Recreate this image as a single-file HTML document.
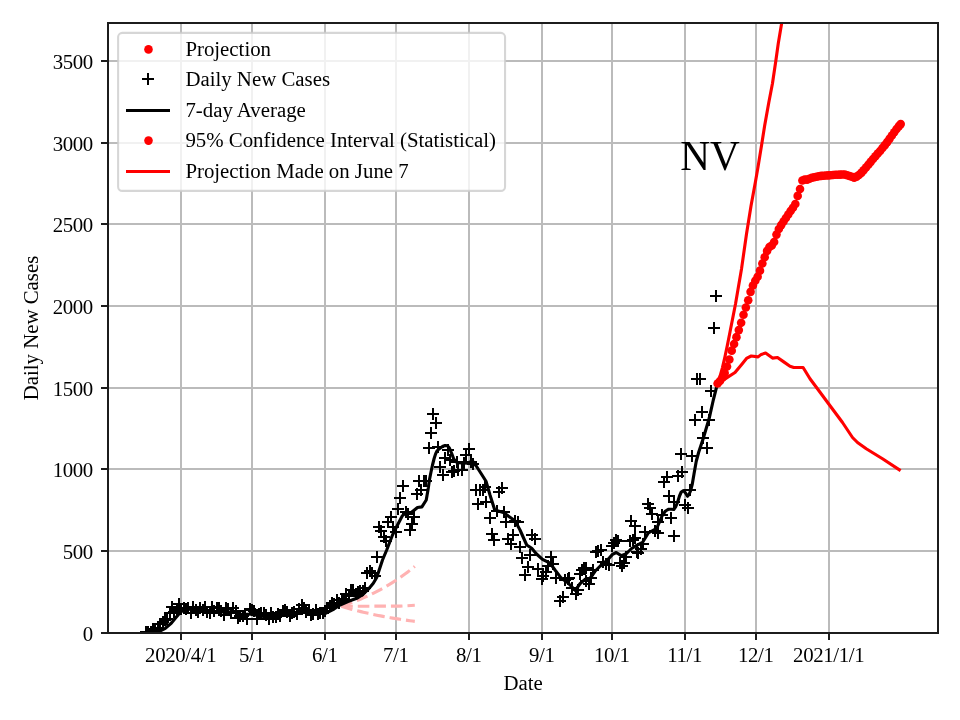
<!DOCTYPE html>
<html><head><meta charset="utf-8"><title>NV Daily New Cases</title>
<style>
html,body{margin:0;padding:0;background:#fff;}
body{width:960px;height:720px;overflow:hidden;}
svg{display:block;}
text{font-family:"Liberation Serif","Times New Roman",serif;fill:#000;}
.t{font-size:20.83px;}
.k{letter-spacing:-0.35px;}
</style></head><body>
<svg width="960" height="720" viewBox="0 0 960 720">
<rect width="960" height="720" fill="#fff"/>
<defs><clipPath id="ax"><rect x="108.00" y="23.00" width="830.00" height="610.00"/></clipPath>
<path id="p" d="M-6,-1h12v2h-12zM-1,-6h2v12h-2z" fill="#000" shape-rendering="crispEdges"/>
<circle id="d" r="4.3" fill="#f00"/>
</defs>
<g fill="#bbbbbb" shape-rendering="crispEdges">
<rect x="180" y="23" width="2" height="610"/>
<rect x="251" y="23" width="2" height="610"/>
<rect x="324" y="23" width="2" height="610"/>
<rect x="395" y="23" width="2" height="610"/>
<rect x="468" y="23" width="2" height="610"/>
<rect x="541" y="23" width="2" height="610"/>
<rect x="611" y="23" width="2" height="610"/>
<rect x="684" y="23" width="2" height="610"/>
<rect x="755" y="23" width="2" height="610"/>
<rect x="828" y="23" width="2" height="610"/>
<rect x="108" y="632" width="830" height="2"/>
<rect x="108" y="550" width="830" height="2"/>
<rect x="108" y="468" width="830" height="2"/>
<rect x="108" y="387" width="830" height="2"/>
<rect x="108" y="305" width="830" height="2"/>
<rect x="108" y="223" width="830" height="2"/>
<rect x="108" y="142" width="830" height="2"/>
<rect x="108" y="60" width="830" height="2"/>
</g>
<g fill="#1c1c1c" shape-rendering="crispEdges">
<rect x="180" y="633" width="2" height="7"/>
<rect x="251" y="633" width="2" height="7"/>
<rect x="324" y="633" width="2" height="7"/>
<rect x="395" y="633" width="2" height="7"/>
<rect x="468" y="633" width="2" height="7"/>
<rect x="541" y="633" width="2" height="7"/>
<rect x="611" y="633" width="2" height="7"/>
<rect x="684" y="633" width="2" height="7"/>
<rect x="755" y="633" width="2" height="7"/>
<rect x="828" y="633" width="2" height="7"/>
<rect x="101" y="632" width="7" height="2"/>
<rect x="101" y="550" width="7" height="2"/>
<rect x="101" y="468" width="7" height="2"/>
<rect x="101" y="387" width="7" height="2"/>
<rect x="101" y="305" width="7" height="2"/>
<rect x="101" y="223" width="7" height="2"/>
<rect x="101" y="142" width="7" height="2"/>
<rect x="101" y="60" width="7" height="2"/>
</g>
<g clip-path="url(#ax)">
<g>
<use href="#p" x="146" y="632"/>
<use href="#p" x="148" y="632"/>
<use href="#p" x="151" y="632"/>
<use href="#p" x="153" y="629"/>
<use href="#p" x="155" y="630"/>
<use href="#p" x="158" y="628"/>
<use href="#p" x="160" y="624"/>
<use href="#p" x="163" y="622"/>
<use href="#p" x="165" y="620"/>
<use href="#p" x="167" y="619"/>
<use href="#p" x="170" y="613"/>
<use href="#p" x="172" y="607"/>
<use href="#p" x="174" y="612"/>
<use href="#p" x="177" y="610"/>
<use href="#p" x="179" y="604"/>
<use href="#p" x="181" y="609"/>
<use href="#p" x="184" y="608"/>
<use href="#p" x="186" y="609"/>
<use href="#p" x="188" y="608"/>
<use href="#p" x="191" y="613"/>
<use href="#p" x="193" y="607"/>
<use href="#p" x="196" y="610"/>
<use href="#p" x="198" y="612"/>
<use href="#p" x="200" y="608"/>
<use href="#p" x="203" y="610"/>
<use href="#p" x="205" y="607"/>
<use href="#p" x="207" y="612"/>
<use href="#p" x="210" y="613"/>
<use href="#p" x="212" y="607"/>
<use href="#p" x="214" y="611"/>
<use href="#p" x="217" y="608"/>
<use href="#p" x="219" y="608"/>
<use href="#p" x="221" y="611"/>
<use href="#p" x="224" y="615"/>
<use href="#p" x="226" y="608"/>
<use href="#p" x="228" y="609"/>
<use href="#p" x="231" y="613"/>
<use href="#p" x="233" y="608"/>
<use href="#p" x="236" y="611"/>
<use href="#p" x="238" y="618"/>
<use href="#p" x="240" y="616"/>
<use href="#p" x="243" y="616"/>
<use href="#p" x="245" y="614"/>
<use href="#p" x="247" y="619"/>
<use href="#p" x="250" y="609"/>
<use href="#p" x="252" y="610"/>
<use href="#p" x="254" y="611"/>
<use href="#p" x="257" y="619"/>
<use href="#p" x="259" y="614"/>
<use href="#p" x="261" y="613"/>
<use href="#p" x="264" y="613"/>
<use href="#p" x="266" y="615"/>
<use href="#p" x="269" y="619"/>
<use href="#p" x="271" y="613"/>
<use href="#p" x="273" y="617"/>
<use href="#p" x="276" y="617"/>
<use href="#p" x="278" y="614"/>
<use href="#p" x="280" y="616"/>
<use href="#p" x="283" y="611"/>
<use href="#p" x="285" y="610"/>
<use href="#p" x="287" y="612"/>
<use href="#p" x="290" y="616"/>
<use href="#p" x="292" y="613"/>
<use href="#p" x="294" y="612"/>
<use href="#p" x="297" y="614"/>
<use href="#p" x="299" y="609"/>
<use href="#p" x="302" y="605"/>
<use href="#p" x="304" y="608"/>
<use href="#p" x="306" y="612"/>
<use href="#p" x="309" y="610"/>
<use href="#p" x="311" y="615"/>
<use href="#p" x="313" y="614"/>
<use href="#p" x="316" y="610"/>
<use href="#p" x="318" y="614"/>
<use href="#p" x="320" y="613"/>
<use href="#p" x="323" y="613"/>
<use href="#p" x="325" y="611"/>
<use href="#p" x="327" y="608"/>
<use href="#p" x="330" y="606"/>
<use href="#p" x="332" y="603"/>
<use href="#p" x="334" y="604"/>
<use href="#p" x="337" y="600"/>
<use href="#p" x="339" y="603"/>
<use href="#p" x="342" y="601"/>
<use href="#p" x="344" y="599"/>
<use href="#p" x="346" y="594"/>
<use href="#p" x="349" y="596"/>
<use href="#p" x="351" y="590"/>
<use href="#p" x="353" y="590"/>
<use href="#p" x="356" y="594"/>
<use href="#p" x="358" y="592"/>
<use href="#p" x="360" y="591"/>
<use href="#p" x="363" y="591"/>
<use href="#p" x="365" y="588"/>
<use href="#p" x="367" y="573"/>
<use href="#p" x="370" y="571"/>
<use href="#p" x="372" y="573"/>
<use href="#p" x="375" y="576"/>
<use href="#p" x="377" y="557"/>
<use href="#p" x="379" y="527"/>
<use href="#p" x="381" y="531"/>
<use href="#p" x="384" y="537"/>
<use href="#p" x="386" y="541"/>
<use href="#p" x="388" y="522"/>
<use href="#p" x="391" y="517"/>
<use href="#p" x="393" y="527"/>
<use href="#p" x="396" y="532"/>
<use href="#p" x="398" y="509"/>
<use href="#p" x="400" y="498"/>
<use href="#p" x="403" y="486"/>
<use href="#p" x="406" y="512"/>
<use href="#p" x="408" y="514"/>
<use href="#p" x="410" y="530"/>
<use href="#p" x="412" y="524"/>
<use href="#p" x="414" y="517"/>
<use href="#p" x="417" y="494"/>
<use href="#p" x="419" y="481"/>
<use href="#p" x="421" y="490"/>
<use href="#p" x="424" y="481"/>
<use href="#p" x="426" y="481"/>
<use href="#p" x="429" y="448"/>
<use href="#p" x="431" y="433"/>
<use href="#p" x="433" y="414"/>
<use href="#p" x="436" y="423"/>
<use href="#p" x="438" y="447"/>
<use href="#p" x="440" y="467"/>
<use href="#p" x="443" y="475"/>
<use href="#p" x="445" y="458"/>
<use href="#p" x="448" y="450"/>
<use href="#p" x="450" y="460"/>
<use href="#p" x="452" y="472"/>
<use href="#p" x="454" y="471"/>
<use href="#p" x="457" y="462"/>
<use href="#p" x="458" y="470"/>
<use href="#p" x="462" y="470"/>
<use href="#p" x="464" y="463"/>
<use href="#p" x="466" y="455"/>
<use href="#p" x="469" y="449"/>
<use href="#p" x="471" y="462"/>
<use href="#p" x="473" y="464"/>
<use href="#p" x="476" y="490"/>
<use href="#p" x="478" y="504"/>
<use href="#p" x="480" y="490"/>
<use href="#p" x="483" y="490"/>
<use href="#p" x="485" y="487"/>
<use href="#p" x="486" y="502"/>
<use href="#p" x="490" y="518"/>
<use href="#p" x="492" y="534"/>
<use href="#p" x="494" y="540"/>
<use href="#p" x="497" y="511"/>
<use href="#p" x="499" y="492"/>
<use href="#p" x="502" y="488"/>
<use href="#p" x="504" y="512"/>
<use href="#p" x="506" y="522"/>
<use href="#p" x="508" y="539"/>
<use href="#p" x="511" y="544"/>
<use href="#p" x="513" y="535"/>
<use href="#p" x="515" y="521"/>
<use href="#p" x="518" y="522"/>
<use href="#p" x="520" y="547"/>
<use href="#p" x="522" y="558"/>
<use href="#p" x="525" y="575"/>
<use href="#p" x="528" y="567"/>
<use href="#p" x="530" y="555"/>
<use href="#p" x="532" y="535"/>
<use href="#p" x="648" y="504"/>
<use href="#p" x="650" y="508"/>
<use href="#p" x="652" y="514"/>
<use href="#p" x="655" y="531"/>
<use href="#p" x="658" y="533"/>
<use href="#p" x="658" y="522"/>
<use href="#p" x="662" y="515"/>
<use href="#p" x="664" y="482"/>
<use href="#p" x="667" y="477"/>
<use href="#p" x="669" y="496"/>
<use href="#p" x="671" y="518"/>
<use href="#p" x="674" y="536"/>
<use href="#p" x="674" y="502"/>
<use href="#p" x="678" y="476"/>
<use href="#p" x="681" y="454"/>
<use href="#p" x="682" y="472"/>
<use href="#p" x="685" y="505"/>
<use href="#p" x="688" y="508"/>
<use href="#p" x="690" y="490"/>
<use href="#p" x="692" y="456"/>
<use href="#p" x="695" y="420"/>
<use href="#p" x="697" y="379"/>
<use href="#p" x="700" y="379"/>
<use href="#p" x="702" y="412"/>
<use href="#p" x="703" y="438"/>
<use href="#p" x="707" y="448"/>
<use href="#p" x="709" y="420"/>
<use href="#p" x="711" y="391"/>
<use href="#p" x="714" y="328"/>
<use href="#p" x="716" y="296"/>
<use href="#p" x="535" y="539"/>
<use href="#p" x="538" y="569"/>
<use href="#p" x="542" y="579"/>
<use href="#p" x="543" y="576"/>
<use href="#p" x="546" y="572"/>
<use href="#p" x="548" y="566"/>
<use href="#p" x="551" y="557"/>
<use href="#p" x="553" y="564"/>
<use href="#p" x="556" y="578"/>
<use href="#p" x="560" y="601"/>
<use href="#p" x="563" y="597"/>
<use href="#p" x="565" y="580"/>
<use href="#p" x="568" y="579"/>
<use href="#p" x="569" y="578"/>
<use href="#p" x="572" y="588"/>
<use href="#p" x="576" y="594"/>
<use href="#p" x="578" y="590"/>
<use href="#p" x="580" y="574"/>
<use href="#p" x="582" y="570"/>
<use href="#p" x="584" y="568"/>
<use href="#p" x="586" y="568"/>
<use href="#p" x="586" y="581"/>
<use href="#p" x="589" y="584"/>
<use href="#p" x="591" y="578"/>
<use href="#p" x="593" y="570"/>
<use href="#p" x="596" y="552"/>
<use href="#p" x="598" y="551"/>
<use href="#p" x="601" y="550"/>
<use href="#p" x="603" y="562"/>
<use href="#p" x="606" y="564"/>
<use href="#p" x="609" y="565"/>
<use href="#p" x="612" y="546"/>
<use href="#p" x="614" y="543"/>
<use href="#p" x="616" y="540"/>
<use href="#p" x="618" y="541"/>
<use href="#p" x="620" y="563"/>
<use href="#p" x="622" y="566"/>
<use href="#p" x="624" y="563"/>
<use href="#p" x="626" y="557"/>
<use href="#p" x="630" y="541"/>
<use href="#p" x="631" y="521"/>
<use href="#p" x="633" y="540"/>
<use href="#p" x="635" y="538"/>
<use href="#p" x="635" y="526"/>
<use href="#p" x="637" y="552"/>
<use href="#p" x="638" y="553"/>
<use href="#p" x="641" y="549"/>
<use href="#p" x="643" y="544"/>
<use href="#p" x="645" y="532"/>
</g>
<path d="M341.25,606.30 L343.70,605.48 L346.15,604.63 L348.61,603.75 L351.06,602.85 L353.51,601.91 L355.96,600.95 L358.41,599.96 L360.86,598.94 L363.31,597.89 L365.77,596.80 L368.22,595.68 L370.67,594.52 L373.12,593.33 L375.57,592.10 L378.02,590.84 L380.48,589.53 L382.93,588.18 L385.38,586.80 L387.83,585.36 L390.28,583.89 L392.74,582.37 L395.19,580.80 L397.64,579.18 L400.09,577.51 L402.54,575.79 L404.99,574.02 L407.44,572.19 L409.90,570.30 L412.35,568.35 L414.80,566.35" stroke="#ffb2b2" stroke-width="3.125" fill="none" stroke-dasharray="11.56 5"/>
<path d="M341.25,606.30 L400.00,606.10 L414.80,605.30" stroke="#ffb2b2" stroke-width="3.125" fill="none" stroke-dasharray="11.56 5"/>
<path d="M341.25,606.30 L343.70,607.03 L346.15,607.75 L348.61,608.44 L351.06,609.12 L353.51,609.77 L355.96,610.41 L358.41,611.03 L360.86,611.63 L363.31,612.22 L365.77,612.79 L368.22,613.34 L370.67,613.88 L373.12,614.40 L375.57,614.91 L378.02,615.41 L380.48,615.89 L382.93,616.36 L385.38,616.81 L387.83,617.26 L390.28,617.69 L392.74,618.10 L395.19,618.51 L397.64,618.91 L400.09,619.29 L402.54,619.66 L404.99,620.03 L407.44,620.38 L409.90,620.73 L412.35,621.06 L414.80,621.38" stroke="#ffb2b2" stroke-width="3.125" fill="none" stroke-dasharray="11.56 5"/>
<path d="M146.00,632.80 L155.00,632.50 L158.70,631.70 L165.30,628.30 L171.20,623.30 L175.30,618.30 L178.70,614.20 L181.20,611.70 L186.00,609.50 L195.00,609.00 L205.00,610.00 L217.00,612.00 L233.00,612.00 L242.00,614.50 L252.00,614.00 L261.00,616.50 L277.00,615.00 L290.00,614.00 L301.00,611.00 L308.00,610.50 L315.00,612.50 L325.00,613.50 L334.00,609.00 L340.00,605.00 L348.00,601.50 L356.70,598.30 L363.30,594.20 L368.30,589.20 L373.30,583.30 L376.70,577.50 L379.20,570.00 L382.50,560.00 L386.70,550.00 L392.50,535.00 L397.50,525.00 L402.50,515.60 L406.25,512.50 L411.25,512.50 L417.50,507.50 L421.90,506.90 L426.25,500.00 L428.30,488.00 L429.40,480.00 L431.00,472.00 L432.50,465.00 L434.00,459.00 L435.60,453.90 L437.00,451.00 L438.75,449.20 L441.00,447.50 L443.10,446.20 L445.00,445.50 L447.50,445.80 L449.40,448.00 L451.90,454.00 L453.75,459.00 L455.60,461.50 L457.50,462.80 L467.50,463.10 L472.50,461.00 L476.25,466.00 L481.25,473.75 L486.00,481.25 L490.00,495.00 L494.75,510.00 L503.30,512.50 L515.00,520.80 L520.00,530.00 L526.70,545.00 L531.70,548.30 L536.25,553.75 L542.50,559.40 L550.00,563.10 L555.00,570.00 L561.25,578.10 L567.50,582.50 L572.00,587.00 L575.00,590.30 L577.00,588.00 L580.00,583.75 L585.00,579.40 L590.00,578.50 L595.00,571.25 L600.00,566.25 L607.50,560.00 L612.50,554.40 L616.25,552.50 L621.25,555.60 L626.25,553.75 L631.25,548.75 L636.25,545.60 L642.50,542.50 L648.30,533.00 L656.70,528.30 L662.50,515.00 L665.50,511.00 L668.75,509.20 L671.50,509.30 L673.75,509.50 L675.80,506.50 L677.50,502.50 L679.50,496.00 L681.25,492.00 L683.50,490.60 L685.50,493.00 L687.50,496.25 L689.00,494.50 L690.50,491.00 L692.30,484.00 L694.00,474.00 L696.25,461.25 L698.75,452.00 L701.25,444.50 L703.30,438.30 L709.20,418.30 L713.30,400.00 L717.50,383.50" stroke="#000" stroke-width="3.125" fill="none" stroke-linejoin="round" stroke-linecap="square"/>
<path d="M717.60,383.50 L720.00,376.50 L722.40,367.80 L725.00,356.50 L727.30,345.60 L730.00,332.00 L732.80,317.80 L735.50,304.00 L737.90,290.00 L741.50,269.00 L746.50,234.00 L751.00,206.00 L755.40,182.00 L758.10,166.50 L761.60,145.00 L764.60,126.00 L768.80,102.50 L772.50,83.30 L775.80,61.00 L778.30,43.30 L781.70,23.00 L783.20,12.00" stroke="#f00" stroke-width="3.125" fill="none" stroke-linejoin="round"/>
<path d="M717.50,383.75 L726.25,378.10 L735.00,372.50 L741.25,365.00 L746.90,358.10 L751.25,356.00 L758.10,356.90 L761.25,354.40 L765.60,353.10 L772.50,358.10 L777.50,357.50 L783.75,361.90 L790.00,366.25 L793.75,367.50 L803.10,367.50 L810.00,378.75 L818.75,390.50 L828.75,404.00 L842.50,422.50 L852.50,437.50 L857.50,442.50 L866.25,448.75 L882.50,458.75 L900.60,470.60" stroke="#f00" stroke-width="3.125" fill="none" stroke-linejoin="round"/>
<g>
<use href="#d" x="717.60" y="383.50"/>
<use href="#d" x="719.96" y="381.05"/>
<use href="#d" x="722.31" y="377.72"/>
<use href="#d" x="724.67" y="373.04"/>
<use href="#d" x="727.02" y="366.53"/>
<use href="#d" x="729.38" y="359.47"/>
<use href="#d" x="731.73" y="350.64"/>
<use href="#d" x="734.09" y="344.01"/>
<use href="#d" x="736.44" y="337.13"/>
<use href="#d" x="738.80" y="330.09"/>
<use href="#d" x="741.15" y="322.83"/>
<use href="#d" x="743.51" y="314.68"/>
<use href="#d" x="745.86" y="307.55"/>
<use href="#d" x="748.22" y="300.32"/>
<use href="#d" x="750.57" y="291.87"/>
<use href="#d" x="752.93" y="285.50"/>
<use href="#d" x="755.28" y="280.72"/>
<use href="#d" x="757.64" y="276.78"/>
<use href="#d" x="759.99" y="270.66"/>
<use href="#d" x="762.35" y="263.51"/>
<use href="#d" x="764.70" y="257.15"/>
<use href="#d" x="767.06" y="250.89"/>
<use href="#d" x="769.41" y="247.06"/>
<use href="#d" x="771.77" y="245.49"/>
<use href="#d" x="774.12" y="241.98"/>
<use href="#d" x="776.48" y="234.62"/>
<use href="#d" x="778.83" y="229.03"/>
<use href="#d" x="781.19" y="225.11"/>
<use href="#d" x="783.54" y="221.56"/>
<use href="#d" x="785.90" y="218.03"/>
<use href="#d" x="788.25" y="214.50"/>
<use href="#d" x="790.61" y="210.97"/>
<use href="#d" x="792.96" y="207.72"/>
<use href="#d" x="795.32" y="203.96"/>
<use href="#d" x="797.67" y="195.90"/>
<use href="#d" x="800.03" y="189.02"/>
<use href="#d" x="802.38" y="180.52"/>
<use href="#d" x="804.74" y="179.52"/>
<use href="#d" x="807.09" y="179.60"/>
<use href="#d" x="809.45" y="178.72"/>
<use href="#d" x="811.80" y="177.68"/>
<use href="#d" x="814.16" y="177.20"/>
<use href="#d" x="816.51" y="176.71"/>
<use href="#d" x="818.87" y="176.23"/>
<use href="#d" x="821.22" y="175.91"/>
<use href="#d" x="823.58" y="175.74"/>
<use href="#d" x="825.93" y="175.57"/>
<use href="#d" x="828.29" y="175.40"/>
<use href="#d" x="830.64" y="175.20"/>
<use href="#d" x="833.00" y="175.01"/>
<use href="#d" x="835.35" y="174.81"/>
<use href="#d" x="837.71" y="174.68"/>
<use href="#d" x="840.06" y="174.62"/>
<use href="#d" x="842.42" y="174.56"/>
<use href="#d" x="844.77" y="174.51"/>
<use href="#d" x="847.13" y="175.22"/>
<use href="#d" x="849.48" y="176.02"/>
<use href="#d" x="851.84" y="176.81"/>
<use href="#d" x="854.19" y="177.60"/>
<use href="#d" x="856.55" y="176.65"/>
<use href="#d" x="858.90" y="175.07"/>
<use href="#d" x="861.26" y="172.91"/>
<use href="#d" x="863.61" y="170.25"/>
<use href="#d" x="865.97" y="167.48"/>
<use href="#d" x="868.32" y="164.69"/>
<use href="#d" x="870.68" y="161.85"/>
<use href="#d" x="873.03" y="159.02"/>
<use href="#d" x="875.39" y="156.19"/>
<use href="#d" x="877.74" y="153.57"/>
<use href="#d" x="880.10" y="150.94"/>
<use href="#d" x="882.45" y="148.06"/>
<use href="#d" x="884.81" y="145.15"/>
<use href="#d" x="887.16" y="142.15"/>
<use href="#d" x="889.52" y="138.85"/>
<use href="#d" x="891.87" y="135.54"/>
<use href="#d" x="894.23" y="132.24"/>
<use href="#d" x="896.58" y="128.93"/>
<use href="#d" x="898.94" y="126.11"/>
<use href="#d" x="900.70" y="124.10"/>
</g>
</g>
<rect x="108" y="23" width="830" height="610" fill="none" stroke="#1c1c1c" stroke-width="2" shape-rendering="crispEdges"/>
<text class="t k" x="180.70" y="661.8" text-anchor="middle">2020/4/1</text>
<text class="t k" x="251.70" y="661.8" text-anchor="middle">5/1</text>
<text class="t k" x="324.70" y="661.8" text-anchor="middle">6/1</text>
<text class="t k" x="395.70" y="661.8" text-anchor="middle">7/1</text>
<text class="t k" x="468.70" y="661.8" text-anchor="middle">8/1</text>
<text class="t k" x="541.70" y="661.8" text-anchor="middle">9/1</text>
<text class="t k" x="611.70" y="661.8" text-anchor="middle">10/1</text>
<text class="t k" x="684.70" y="661.8" text-anchor="middle">11/1</text>
<text class="t k" x="755.70" y="661.8" text-anchor="middle">12/1</text>
<text class="t k" x="828.70" y="661.8" text-anchor="middle">2021/1/1</text>
<text class="t k" x="92.9" y="641.00" text-anchor="end">0</text>
<text class="t k" x="92.9" y="559.00" text-anchor="end">500</text>
<text class="t k" x="92.9" y="477.00" text-anchor="end">1000</text>
<text class="t k" x="92.9" y="396.00" text-anchor="end">1500</text>
<text class="t k" x="92.9" y="314.00" text-anchor="end">2000</text>
<text class="t k" x="92.9" y="232.00" text-anchor="end">2500</text>
<text class="t k" x="92.9" y="151.00" text-anchor="end">3000</text>
<text class="t k" x="92.9" y="69.00" text-anchor="end">3500</text>
<text class="t" x="523.2" y="690" text-anchor="middle">Date</text>
<text class="t" transform="translate(38,328) rotate(-90)" text-anchor="middle">Daily New Cases</text>
<text x="680.2" y="170" style="font-size:41.2px">NV</text>
<rect x="118.1" y="32.9" width="386.95" height="158" rx="4.2" ry="4.2" fill="#fff" fill-opacity="0.8" stroke="#ccc" stroke-opacity="0.8" stroke-width="2.08"/>
<use href="#d" x="148.5" y="49.4"/>
<use href="#p" x="148" y="79"/>
<rect x="126" y="109" width="44" height="3" fill="#000" shape-rendering="crispEdges"/>
<use href="#d" x="148.5" y="140.6"/>
<rect x="126" y="170" width="44" height="3" fill="#f00" shape-rendering="crispEdges"/>
<text class="t" x="185.4" y="56.00">Projection</text>
<text class="t" x="185.4" y="86.20">Daily New Cases</text>
<text class="t" x="185.4" y="116.90">7-day Average</text>
<text class="t" x="185.4" y="147.20">95% Confidence Interval (Statistical)</text>
<text class="t" x="185.4" y="177.60">Projection Made on June 7</text>
</svg></body></html>
